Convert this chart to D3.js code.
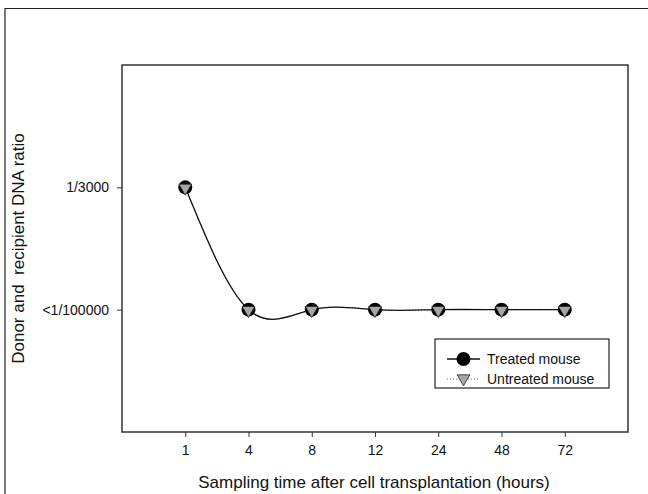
<!DOCTYPE html>
<html>
<head>
<meta charset="utf-8">
<script src="https://cdn.jsdelivr.net/npm/d3@7"></script>
<style>
  body { margin: 0; background: #fff; }
  text { font-family: "Liberation Sans", Arial, sans-serif; fill: #111; }
</style>
</head>
<body>
<script>
// sampling times (hours) shown as evenly spaced categories
var times = ['1', '4', '8', '12', '24', '48', '72'];
// ratio level: 2 = 1/3000, 1 = <1/100000
var treated = [2, 1, 1, 1, 1, 1, 1];
var untreated = [2, 1, 1, 1, 1, 1, 1];
var yLevels = [1, 2];
var yLabels = ['<1/100000', '1/3000'];
var seriesNames = ['Treated mouse', 'Untreated mouse'];

var width = 648, height = 494;
var plot = { left: 122, right: 628, top: 65, bottom: 432 };

var svg = d3.select('body').append('svg')
  .attr('width', width)
  .attr('height', height);

// outer frame (top + left only visible)
svg.append('path')
  .attr('d', 'M5,' + height + 'V8.5H' + width)
  .attr('fill', 'none')
  .attr('stroke', '#222')
  .attr('stroke-width', 1.2);

var x = d3.scaleLinear().domain([0, times.length + 1]).range([plot.left, plot.right]);
var y = d3.scaleLinear().domain([0, 3]).range([plot.bottom, plot.top]);

// plot box
svg.append('rect')
  .attr('x', plot.left).attr('y', plot.top)
  .attr('width', plot.right - plot.left).attr('height', plot.bottom - plot.top)
  .attr('fill', 'none').attr('stroke', '#333').attr('stroke-width', 1.5);

// x axis
var xAxis = d3.axisBottom(x)
  .tickValues(times.map((d, i) => i + 1))
  .tickFormat((d) => times[d - 1])
  .tickSize(5).tickSizeOuter(0).tickPadding(8);
var gx = svg.append('g').attr('transform', 'translate(0,' + plot.bottom + ')').call(xAxis);
gx.select('.domain').remove();
gx.selectAll('line').attr('stroke', '#333');
gx.selectAll('text').style('font-size', '14px').attr('fill', '#111');

// y axis
var yAxis = d3.axisLeft(y)
  .tickValues(yLevels)
  .tickFormat((d, i) => yLabels[i])
  .tickSize(5).tickSizeOuter(0).tickPadding(8);
var gy = svg.append('g').attr('transform', 'translate(' + plot.left + ',0)').call(yAxis);
gy.select('.domain').remove();
gy.selectAll('line').attr('stroke', '#333');
gy.selectAll('text').style('font-size', '14px').attr('fill', '#111');

// axis titles
svg.append('text')
  .attr('x', (plot.left + plot.right) / 2 - 1).attr('y', 488)
  .attr('text-anchor', 'middle')
  .style('font-size', '17px')
  .text('Sampling time after cell transplantation (hours)');

svg.append('text')
  .attr('transform', 'translate(24,' + ((plot.top + plot.bottom) / 2) + ') rotate(-90)')
  .attr('text-anchor', 'middle')
  .style('font-size', '17px')
  .style('white-space', 'pre')
  .text('Donor and  recipient DNA ratio');

var line = d3.line()
  .x((d, i) => x(i + 1))
  .y((d) => y(d))
  .curve(d3.curveNatural);

// untreated (dotted) then treated (solid)
svg.append('path').datum(untreated)
  .attr('d', line).attr('fill', 'none')
  .attr('stroke', '#666').attr('stroke-width', 1).attr('stroke-dasharray', '1,2');
svg.append('path').datum(treated)
  .attr('d', line).attr('fill', 'none')
  .attr('stroke', '#111').attr('stroke-width', 1.3);

var tri = d3.symbol().type(d3.symbolTriangle).size(70);

function circleMark(g, cx, cy) {
  g.append('circle').attr('cx', cx).attr('cy', cy).attr('r', 7)
    .attr('fill', '#000');
}
function triMark(g, cx, cy) {
  g.append('path').attr('d', tri)
    .attr('transform', 'translate(' + cx + ',' + (cy + 0.5) + ') rotate(180)')
    .attr('fill', '#a6a6a6').attr('stroke', '#222').attr('stroke-width', 0.8);
}

var marks = svg.append('g');
treated.forEach((d, i) => circleMark(marks, x(i + 1), y(d)));
untreated.forEach((d, i) => triMark(marks, x(i + 1), y(untreated[i])));

// legend
var lg = svg.append('g');
lg.append('rect')
  .attr('x', 435).attr('y', 339).attr('width', 174).attr('height', 49)
  .attr('fill', '#fff').attr('stroke', '#222').attr('stroke-width', 1.2);
lg.append('line').attr('x1', 447).attr('x2', 480).attr('y1', 359).attr('y2', 359)
  .attr('stroke', '#111').attr('stroke-width', 1.3);
circleMark(lg, 463.5, 359);
lg.append('line').attr('x1', 447).attr('x2', 480).attr('y1', 379).attr('y2', 379)
  .attr('stroke', '#666').attr('stroke-width', 1).attr('stroke-dasharray', '1,2');
triMark(lg, 463.5, 378);
seriesNames.forEach((n, i) => {
  lg.append('text').attr('x', 487).attr('y', 359 + i * 20).attr('dy', '0.35em')
    .style('font-size', '14px').text(n);
});
</script>
</body>
</html>
